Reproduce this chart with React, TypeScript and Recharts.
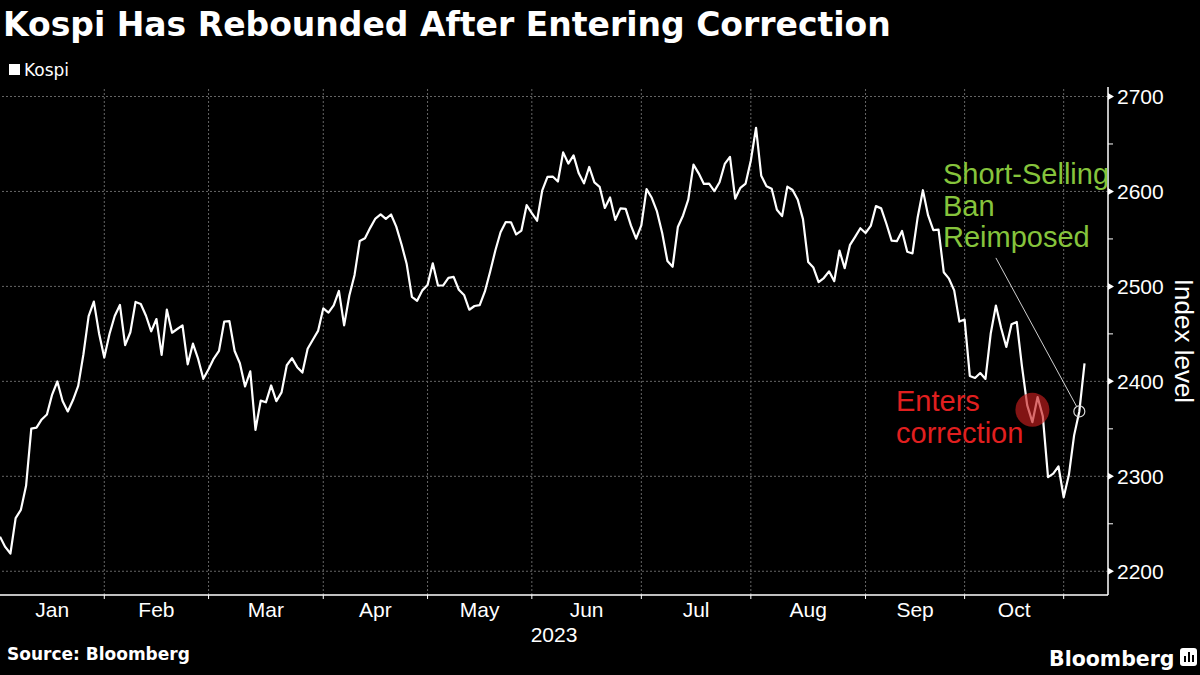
import React from "react";
import {
  LineChart,
  Line,
  XAxis,
  YAxis,
  ReferenceLine,
  ReferenceDot,
} from "recharts";

const MONTHS = ["Jan", "Feb", "Mar", "Apr", "May", "Jun", "Jul", "Aug", "Sep", "Oct"];

// Kospi closes, one value per trading day
const DEC_2022 = [2236.4];
const JAN = [2225.67, 2218.68, 2255.98, 2264.65, 2289.97, 2350.19, 2351.31, 2359.88, 2365.1, 2386.09, 2399.86, 2379.39, 2368.32, 2380.34, 2395.26, 2428.57, 2468.65, 2484.02, 2450.47, 2425.08];
const FEB = [2449.8, 2468.88, 2480.4, 2438.19, 2451.71, 2483.64, 2481.52, 2469.07, 2452.7, 2465.64, 2427.9, 2475.48, 2451.21, 2455.12, 2458.96, 2417.96, 2439.67, 2423.61, 2402.64, 2412.85];
const MAR = [2424.0, 2432.07, 2462.94, 2463.35, 2431.91, 2419.09, 2394.59, 2410.6, 2348.97, 2379.72, 2377.91, 2395.69, 2379.2, 2388.35, 2416.96, 2424.48, 2414.96, 2409.22, 2434.33, 2443.85, 2453.16, 2476.86];
const APR = [2472.34, 2480.05, 2495.22, 2458.96, 2490.41, 2512.08, 2547.86, 2550.64, 2561.66, 2571.49, 2575.91, 2571.09, 2575.71, 2562.99, 2544.4, 2523.5, 2489.02, 2484.83, 2495.81, 2501.53];
const MAY = [2524.28, 2500.94, 2501.16, 2509.06, 2510.06, 2496.51, 2491.0, 2475.42, 2479.35, 2480.24, 2494.66, 2515.38, 2537.79, 2557.08, 2567.75, 2567.51, 2554.69, 2558.81, 2585.52, 2577.12];
const JUN = [2569.17, 2601.21, 2615.41, 2615.69, 2610.41, 2641.16, 2629.35, 2637.95, 2619.08, 2608.54, 2625.79, 2609.5, 2604.91, 2582.63, 2593.7, 2570.1, 2582.2, 2581.71, 2564.19, 2550.29, 2564.28];
const JUL = [2602.47, 2593.31, 2579.0, 2556.29, 2526.71, 2520.7, 2562.49, 2574.72, 2591.32, 2628.3, 2619.08, 2607.95, 2608.24, 2600.37, 2609.76, 2628.97, 2636.46, 2592.36, 2603.81, 2608.32, 2632.58];
const AUG = [2667.07, 2616.47, 2605.39, 2602.8, 2580.71, 2573.98, 2605.12, 2601.56, 2591.26, 2570.87, 2525.64, 2519.85, 2504.5, 2508.8, 2515.9, 2505.5, 2537.68, 2519.14, 2543.41, 2552.16, 2561.22, 2556.27];
const SEP = [2563.71, 2584.55, 2582.18, 2566.0, 2548.26, 2547.68, 2558.38, 2536.58, 2534.7, 2572.89, 2601.28, 2574.72, 2559.21, 2559.74, 2514.97, 2508.13, 2495.76, 2462.97, 2465.07];
const OCT = [2405.69, 2403.6, 2408.73, 2402.58, 2450.08, 2479.82, 2456.15, 2436.24, 2460.17, 2462.6, 2415.8, 2375.0, 2357.02, 2383.51, 2363.17, 2299.08, 2302.81, 2310.55, 2277.99];
const NOV = [2301.56, 2343.12, 2368.34, 2419.0];

const MONTH_VALUES = [JAN, FEB, MAR, APR, MAY, JUN, JUL, AUG, SEP, OCT];
const SERIES = [...DEC_2022, ...MONTH_VALUES.flat(), ...NOV];

const Y_TICKS = [2200, 2250, 2300, 2350, 2400, 2450, 2500, 2550, 2600, 2650, 2700];
const Y_GRID = [2200, 2300, 2400, 2500, 2600, 2700];

// annotations
const CORRECTION_DAY = 198;
const CORRECTION_LEVEL = 2370;
const BAN_DAY = SERIES.length - 2;
const BAN_LABEL_ANCHOR = { i: 191, v: 2530 };

const data = SERIES.map((v, i) => ({ i, kospi: v }));

// gridlines sit on the last trading day of each month, labels in between
const boundaries: number[] = [];
let count = DEC_2022.length - 1;
MONTH_VALUES.forEach((m) => {
  count += m.length;
  boundaries.push(count);
});
const mids = boundaries.map((b, k) => ((k === 0 ? 0 : boundaries[k - 1]) + b) / 2);
const monthByMid = new Map(mids.map((m, k) => [m, MONTHS[k]]));

const X_DOMAIN = [0, 212.5];
const FONT = "'Liberation Sans', Arial, sans-serif";
const TITLE_FONT = "'DejaVu Sans', sans-serif";
const GREEN = "#86c43c";
const RED = "#e11f1f";
const GRID = "#666";

const banPoint = { x: BAN_DAY, y: SERIES[BAN_DAY] };
const pull = 0.965;
const banLineEnd = {
  x: BAN_LABEL_ANCHOR.i + (banPoint.x - BAN_LABEL_ANCHOR.i) * pull,
  y: BAN_LABEL_ANCHOR.v + (banPoint.y - BAN_LABEL_ANCHOR.v) * pull,
};

function YTick(props: any) {
  const { x, y, payload } = props;
  const major = payload.value % 100 === 0;
  if (!major) {
    return <line x1={x} x2={x + 5} y1={y} y2={y} stroke="#fff" strokeWidth={1} />;
  }
  return (
    <g>
      <path d={`M${x},${y - 3.5}L${x + 6},${y}L${x},${y + 3.5}Z`} fill="#fff" />
      <text x={x + 9} y={y} dy="0.36em" fill="#fff" fontSize={21} fontFamily={FONT}>
        {payload.value}
      </text>
    </g>
  );
}

function IndexLabel(props: any) {
  const vb = props.viewBox;
  const cx = vb.x + vb.width - 16;
  const cy = vb.y + vb.height / 2;
  return (
    <text
      x={cx}
      y={cy}
      transform={`rotate(90 ${cx} ${cy})`}
      textAnchor="middle"
      dominantBaseline="central"
      fill="#fff"
      fontSize={26}
      fontFamily={FONT}
    >
      Index level
    </text>
  );
}

function YearLabel(props: any) {
  const vb = props.viewBox;
  return (
    <text x={vb.x + vb.width / 2} y={vb.y + 46} textAnchor="middle" fill="#fff" fontSize={21} fontFamily={FONT}>
      2023
    </text>
  );
}

export default function App() {
  return (
    <div style={{ position: "relative", width: 1200, height: 675, background: "#000", overflow: "hidden" }}>
      <style>{"body{margin:0;background:#000;}"}</style>
      <LineChart width={1200} height={675} data={data} margin={{ top: 87, right: 0, bottom: 0, left: 0 }}>
        {Y_GRID.map((v) => (
          <ReferenceLine key={`h${v}`} y={v} stroke={GRID} strokeDasharray="2 2" />
        ))}
        {boundaries.map((b) => (
          <ReferenceLine key={`v${b}`} x={b} stroke={GRID} strokeDasharray="2 2" />
        ))}
        <XAxis
          dataKey="i"
          type="number"
          domain={X_DOMAIN}
          ticks={boundaries}
          interval={0}
          tickFormatter={() => ""}
          tickSize={4}
          height={1}
          axisLine={{ stroke: "#fff", strokeWidth: 1.5 }}
          tickLine={{ stroke: "#fff" }}
          allowDataOverflow
        />
        <XAxis
          xAxisId="months"
          dataKey="i"
          type="number"
          domain={X_DOMAIN}
          ticks={mids}
          interval={0}
          height={79}
          tickSize={0}
          tickMargin={6}
          axisLine={false}
          tickLine={false}
          tickFormatter={(v: number) => monthByMid.get(v) || ""}
          tick={{ fill: "#fff", fontSize: 21, fontFamily: FONT }}
          label={<YearLabel />}
          allowDataOverflow
        />
        <YAxis
          orientation="right"
          domain={[2175, 2710]}
          ticks={Y_TICKS}
          interval={0}
          width={92}
          tickSize={0}
          tickMargin={0}
          tickLine={false}
          axisLine={{ stroke: "#fff", strokeWidth: 1.5 }}
          tick={<YTick />}
          label={<IndexLabel />}
          allowDataOverflow
        />
        <Line
          dataKey="kospi"
          stroke="#fff"
          strokeWidth={2.2}
          dot={false}
          strokeLinejoin="round"
          isAnimationActive={false}
        />
        <ReferenceLine
          segment={[{ x: BAN_LABEL_ANCHOR.i, y: BAN_LABEL_ANCHOR.v }, banLineEnd]}
          stroke="#d0d0d0"
          strokeWidth={1}
          ifOverflow="visible"
        />
        <ReferenceDot x={banPoint.x} y={banPoint.y} r={5.5} fill="none" stroke="#d8d8d8" strokeWidth={1.2} ifOverflow="visible" />
        <ReferenceDot
          x={CORRECTION_DAY}
          y={CORRECTION_LEVEL}
          r={17}
          fill="#c81e1e"
          fillOpacity={0.65}
          stroke="none"
          ifOverflow="visible"
        />
      </LineChart>
      <svg width={1200} height={675} style={{ position: "absolute", left: 0, top: 0, pointerEvents: "none" }}>
        <text x={3} y={36} fill="#fff" fontSize={33} fontWeight="bold" fontFamily={TITLE_FONT}>
          Kospi Has Rebounded After Entering Correction
        </text>
        <rect x={9} y={64} width={11} height={11} fill="#fff" />
        <text x={24} y={76} fill="#fff" fontSize={17} fontFamily={TITLE_FONT}>
          Kospi
        </text>
        <g fill={GREEN} fontSize={29} fontFamily={FONT}>
          <text x={943} y={184}>Short-Selling</text>
          <text x={943} y={216}>Ban</text>
          <text x={943} y={247}>Reimposed</text>
        </g>
        <g fill={RED} fontSize={29} fontFamily={FONT}>
          <text x={896} y={411}>Enters</text>
          <text x={896} y={443}>correction</text>
        </g>
        <text x={7} y={660} fill="#fff" fontSize={17} fontWeight="bold" fontFamily={TITLE_FONT}>
          Source: Bloomberg
        </text>
        <text x={1049} y={666} fill="#fff" fontSize={20.5} fontWeight="bold" fontFamily={TITLE_FONT}>
          Bloomberg
        </text>
        <rect x={1180} y={648} width={17} height={18} rx={3} fill="#fff" />
        <rect x={1184} y={656} width={2} height={6} fill="#000" />
        <rect x={1188} y={652} width={2} height={10} fill="#000" />
        <rect x={1192} y={655} width={2} height={7} fill="#000" />
      </svg>
    </div>
  );
}
